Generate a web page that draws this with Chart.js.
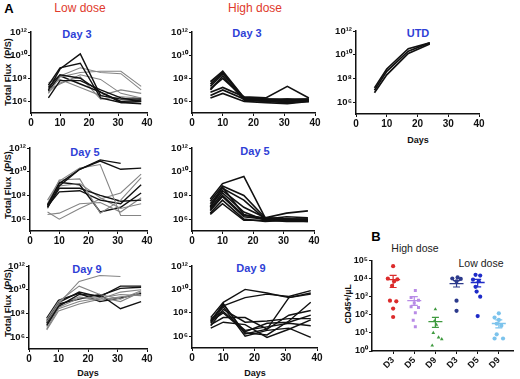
<!DOCTYPE html>
<html>
<head>
<meta charset="utf-8">
<script src="https://cdn.jsdelivr.net/npm/chart.js@4.4.1/dist/chart.umd.min.js"></script>
<style>
  html, body { margin:0; padding:0; background:#fff; overflow:hidden; }
  #wrap { position:relative; width:520px; height:379px; background:#fff; font-family: Arial, "Liberation Sans", sans-serif; }
  canvas { position:absolute; }
  .t { position:absolute; transform:translate(-50%,-50%); white-space:nowrap; line-height:1; }
  .r { position:absolute; transform:translate(-50%,-50%) rotate(-90deg); white-space:nowrap; line-height:1; font-weight:bold; font-size:9px; color:#111; }
  .blue { color:#2f3fd6; font-weight:bold; font-size:11px; }
  .red { color:#e03a2c; font-size:12px; }
  .days { font-weight:bold; font-size:9px; color:#111; }
</style>
</head>
<body>
<div id="wrap">
  <div class="t" style="left:9px;top:8px;font-weight:bold;font-size:13px;">A</div>
  <div class="t red" style="left:80px;top:8px;">Low dose</div>
  <div class="t red" style="left:255px;top:8px;">High dose</div>

  <div class="t blue" style="left:77px;top:34px;">Day 3</div>
  <div class="t blue" style="left:247px;top:33px;">Day 3</div>
  <div class="t blue" style="left:418px;top:33px;">UTD</div>
  <div class="t blue" style="left:85px;top:152px;">Day 5</div>
  <div class="t blue" style="left:255px;top:151px;">Day 5</div>
  <div class="t blue" style="left:87px;top:269px;">Day 9</div>
  <div class="t blue" style="left:251px;top:268px;">Day 9</div>

  <div class="r" style="left:8px;top:72px;">Total Flux&nbsp; (P/S)</div>
  <div class="r" style="left:8px;top:185px;">Total Flux&nbsp; (P/S)</div>
  <div class="r" style="left:8px;top:303px;">Total Flux&nbsp; (P/S)</div>

  <div class="t days" style="left:418px;top:140px;">Days</div>
  <div class="t days" style="left:88px;top:373px;">Days</div>
  <div class="t days" style="left:255px;top:373px;">Days</div>

  <div class="t" style="left:376px;top:236px;font-weight:bold;font-size:13px;">B</div>
  <div class="t" style="left:415px;top:248px;font-size:10.5px;color:#222;">High dose</div>
  <div class="t" style="left:481px;top:263px;font-size:10.5px;color:#222;">Low dose</div>
  <div class="r" style="left:348px;top:304px;font-size:8.5px;">CD45+/µL</div>

  <canvas id="c1"></canvas><canvas id="c2"></canvas><canvas id="c3"></canvas>
  <canvas id="c4"></canvas><canvas id="c5"></canvas>
  <canvas id="c6"></canvas><canvas id="c7"></canvas>
  <canvas id="c8"></canvas>
</div>
<script>
// ---------- DATA ----------
const days = [6, 10, 17, 24, 31, 38];
const utdDays = [6, 10, 17, 24];
const xTickVals = [0, 10, 20, 30, 40];
const yTickVals = [1e6, 1e8, 1e10, 1e12];
const yTickLabels = ['10\u2076', '10\u2078', '10\u00b9\u2070', '10\u00b9\u00b2'];

// Total flux (p/s), one row per mouse; shade: 'k' = black line, 'g' = grey line
const lowDay3 = [
  [1e7, 6.3e8, 1.3e10, 3.2e6, 1.6e6, 1.6e6],
  [2.5e7, 8e8, 2e9, 2e6, 8e5, 1e6],
  [1.6e7, 2e8, 1e8, 6.3e6, 1e6, 1.3e6],
  [5e6, 1.3e8, 3.2e8, 4e8, 4e8, 2e7],
  [4e7, 1.6e8, 8e8, 3.2e8, 2.5e8, 1e7],
  [2e6, 6.3e7, 6.3e7, 1e7, 2e6, 1e6],
  [1e7, 3.2e7, 2e8, 8e7, 5e6, 2e6],
  [8e6, 1.6e8, 3.2e7, 6.3e6, 8e5, 6.3e5],
  [2e7, 8e7, 1.6e7, 3.2e6, 1e7, 5e6],
  [6.3e6, 4e7, 1.3e8, 1.6e6, 2.5e6, 2e6]
];
const lowDay3Shade = ['k','k','k','g','g','k','g','k','g','g'];

const highDay3 = [
  [5e7, 4e8, 2e6, 1.6e6, 1.3e6, 1.6e6],
  [3.2e7, 3.2e8, 1.6e6, 1.3e6, 1e6, 1.3e6],
  [2e7, 2.5e8, 2e6, 1.6e6, 1.6e6, 1e6],
  [1e7, 1.6e8, 1.3e6, 1e6, 8e5, 1e6],
  [6.3e6, 1.6e7, 2.5e6, 2e6, 2e7, 2e6],
  [3.2e6, 1e7, 1.6e6, 1.3e6, 1e6, 1.3e6],
  [2e6, 5e6, 1e6, 8e5, 6.3e5, 1e6],
  [1.3e7, 1e8, 2e6, 1e6, 1.6e6, 1.6e6]
];

const utd = [
  [1.6e7, 6.3e8, 3.2e10, 1e11],
  [1e7, 4e8, 2e10, 1e11],
  [6.3e6, 2e8, 1.3e10, 8e10]
];

const lowDay5 = [
  [1e7, 6.3e8, 1.6e10, 1e11, 5e10, null],
  [1.6e7, 1e9, 1.6e10, 8e10, 1.6e10, 2e10],
  [4e7, 1.6e9, 2e10, 4e10, 2e6, 2e6],
  [2e7, 2e9, 2.5e9, 3.2e6, 4e7, 3.2e9],
  [1e7, 4e8, 4e8, 1e8, 3.2e7, 4e7],
  [1.3e7, 2e8, 2.5e8, 4e7, 2e7, 8e8],
  [4e6, 1e6, 8e6, 5e7, 1.6e8, 6.3e9],
  [2.5e6, 3.2e6, 2e7, 2.5e7, 4e6, 6.3e7],
  [8e6, 6.3e8, 1e9, 6.3e7, 8e6, 2e7],
  [1.6e7, 1.3e9, 8e8, 4e6, 1e7, 1.6e8]
];
const lowDay5Shade = ['k','k','g','g','k','k','g','g','g','k'];

const highDay5 = [
  [5e7, 1e9, 4e9, 1.3e6, 3.2e6, 5e6],
  [3.2e7, 6.3e8, 1e8, 1.3e6, 1e6, 1e6],
  [2e7, 4e8, 4e7, 1e6, 8e5, 8e5],
  [1.3e7, 2.5e8, 1e7, 1.3e6, 8e5, 8e5],
  [8e6, 1.6e8, 4e6, 8e5, 1e6, 8e5],
  [5e6, 8e7, 1.6e6, 1e6, 8e5, 6.3e5],
  [3.2e6, 4e7, 1e6, 6.3e5, 8e5, 8e5],
  [2.5e6, 2e7, 8e5, 8e5, 6.3e5, 6.3e5],
  [1e7, 5e8, 2.5e6, 1e6, 1.6e6, 1.3e6],
  [6.3e6, 1e8, 2e6, 1.3e6, 1e6, 1e6]
];

const lowDay9 = [
  [2e7, 6.3e8, 5e10, 1.6e11, 1.3e11, null],
  [3.2e7, 1e9, 2e10, 4e9, 1.6e9, 8e9],
  [1.6e7, 8e8, 6.3e9, 2.5e9, 2e10, 2e10],
  [1e7, 4e8, 4e9, 3.2e9, 1.3e10, 1.6e10],
  [8e6, 3.2e8, 2e9, 2.5e9, 1e9, 6.3e9],
  [2.5e7, 6.3e8, 1.6e9, 4e9, 2.5e8, 1e9],
  [1.3e7, 5e8, 2.5e9, 1.3e9, 2.5e9, 4e9],
  [5e6, 2.5e8, 1e9, 2e9, 4e9, 3.2e9],
  [4e7, 1.3e9, 5e9, 1e9, 2e9, 5e9],
  [4e6, 1.6e8, 6.3e8, 1.6e9, 6.3e9, 1e10]
];
const lowDay9Shade = ['g','g','k','k','g','k','g','g','k','g'];

const highDay9 = [
  [4e7, 8e8, 1e10, 5e9, 2e9, 5e9],
  [2.5e7, 4e8, 2e9, 4e9, 2.5e9, 8e9],
  [1.6e7, 6.3e8, 1.6e6, 4e6, 2e9, 4e9],
  [2e7, 5e8, 2e6, 1.3e6, 2e7, 8e8],
  [8e6, 2e8, 1.6e7, 2e7, 3.2e7, 3.2e7],
  [1e7, 4e7, 4e7, 4e6, 6.3e7, 1.6e8],
  [3.2e7, 1.3e8, 3.2e6, 6.3e6, 1.3e7, 8e6],
  [5e6, 1.6e7, 1e7, 8e5, 4e6, 2.5e7],
  [1.3e7, 3.2e8, 1e6, 3.2e6, 5e6, 8e5],
  [2e7, 1e8, 2.5e6, 1.3e7, 1.6e7, 6.3e7]
];

// Panel B: CD45+ cells per µL
const groupLabels = ['D3', 'D5', 'D9', 'D3', 'D5', 'D9'];
const groupColors = ['#dc2b2b', '#b88be6', '#3f9a3f', '#2c3a8c', '#1e2bc8', '#7cc3ec'];
const groupMarkers = ['circle', 'rect', 'triangle', 'circle', 'circle', 'circle'];
const cd45Values = [
  [4.8e4, 1.0e4, 9.0e3, 7.0e3, 4.0e3, 6.0e2, 5.5e2, 2.2e2, 7.5e1],
  [2.2e3, 9.0e2, 6.3e2, 4.5e2, 2.8e2, 2.5e2, 1.3e2, 5.0e1, 2.2e1],
  [2.0e2, 4.5e1, 2.8e1, 1.0e1, 5.6, 4.5, 2.0],
  [1.15e4, 1.0e4, 9.5e3, 7.0e3, 6.0e2, 1.65e2],
  [1.6e4, 1.45e4, 8.7e3, 7.1e3, 3.5e3, 1.9e3, 1.0e3, 8.5e1],
  [1.2e2, 7.0e1, 5.2e1, 3.2e1, 2.5e1, 8.3, 4.9, 4.9]
];
const cd45Jitter = [
  [0, -0.25, 0.2, 0.05, -0.05, -0.15, 0.15, 0, 0],
  [0.05, -0.15, 0.2, 0, -0.15, 0.2, 0.05, -0.05, 0.05],
  [0, -0.05, 0.05, -0.1, 0.15, 0.3, -0.15],
  [0.05, -0.2, 0.2, 0, 0, 0],
  [-0.1, 0.12, -0.22, 0.05, -0.1, -0.05, 0.12, 0],
  [0, -0.2, 0, -0.1, 0.12, -0.1, -0.2, 0.2]
];
const cd45Mean = [8.7e3, 6.0e2, 4.2e1, 5.2e3, 6.0e3, 3.3e1];
const cd45SemLo = [3.2e3, 3.3e2, 2.0e1, 3.4e3, 3.5e3, 1.9e1];
const cd45SemHi = [1.5e4, 1.0e3, 7.2e1, 7.6e3, 8.9e3, 5.2e1];
const bTickVals = [1, 10, 100, 1e3, 1e4, 1e5];
const bTickLabels = ['10\u2070', '10\u00b9', '10\u00b2', '10\u00b3', '10\u2074', '10\u2075'];

// ---------- DRAWING ----------
Chart.defaults.font.family = 'Arial, "Liberation Sans", sans-serif';
Chart.defaults.color = '#111';

const SHADE = { k: '#111111', g: '#858585' };

function place(id, box, yw, pt, pr, xh) {
  const c = document.getElementById(id);
  const w = (box.r - box.l) + yw + pr;
  const h = (box.b - box.t) + pt + xh;
  c.width = w; c.height = h;
  c.style.left = (box.l - yw) + 'px';
  c.style.top = (box.t - pt) + 'px';
  c.style.width = w + 'px'; c.style.height = h + 'px';
  return c;
}

function axisCommon() {
  return {
    grid: { display: true, drawOnChartArea: false, drawTicks: true, tickLength: 3, color: '#111', lineWidth: 1 },
    border: { display: true, color: '#111', width: 1.5 }
  };
}

function linePanel(id, box, series, xs, shades, width) {
  const YW = 30, PT = 8, PR = 8, XH = 18;
  const c = place(id, box, YW, PT, PR, XH);
  const datasets = series.map((s, i) => ({
    data: xs.map((d, j) => ({ x: d, y: s[j] })).filter(p => p.y !== null && p.y !== undefined),
    borderColor: SHADE[shades ? shades[i] : 'k'],
    borderWidth: shades && shades[i] === 'g' ? 1.1 : width,
    pointRadius: 0, fill: false, tension: 0
  }));
  return new Chart(c, {
    type: 'line',
    data: { datasets },
    options: {
      responsive: false, animation: false, devicePixelRatio: 1,
      layout: { padding: { top: PT, right: PR, left: 0, bottom: 0 } },
      plugins: { legend: { display: false }, tooltip: { enabled: false } },
      scales: {
        x: Object.assign(axisCommon(), {
          type: 'linear', min: 0, max: 40,
          afterBuildTicks: s => { s.ticks = xTickVals.map(v => ({ value: v })); },
          afterFit: s => { s.height = XH; },
          ticks: { color: '#111', font: { size: 10, weight: 'bold' }, padding: 1, maxRotation: 0, autoSkip: false }
        }),
        y: Object.assign(axisCommon(), {
          type: 'logarithmic', min: 1e5, max: 1e12,
          afterBuildTicks: s => { s.ticks = yTickVals.map(v => ({ value: v })); },
          afterFit: s => { s.width = YW; },
          ticks: { color: '#111', font: { size: 9.5, weight: 'bold' }, padding: 1, autoSkip: false,
                   callback: (v, i) => yTickLabels[i] }
        })
      }
    }
  });
}

linePanel('c1', { l: 31, t: 32, r: 147, b: 113 }, lowDay3, days, lowDay3Shade, 1.4);
linePanel('c2', { l: 192, t: 32, r: 315, b: 113 }, highDay3, days, null, 1.7);
linePanel('c3', { l: 356, t: 31, r: 479, b: 114 }, utd, utdDays, null, 1.7);
linePanel('c4', { l: 30, t: 148, r: 147, b: 231 }, lowDay5, days, lowDay5Shade, 1.4);
linePanel('c5', { l: 192, t: 148, r: 314, b: 231 }, highDay5, days, null, 1.6);
linePanel('c6', { l: 29, t: 266, r: 147, b: 349 }, lowDay9, days, lowDay9Shade, 1.4);
linePanel('c7', { l: 192, t: 266, r: 317, b: 348 }, highDay9, days, null, 1.4);

// Panel B
(function () {
  const YW = 24, PT = 6, PR = 4, XH = 28;
  const c = place('c8', { l: 372, t: 258, r: 518, b: 351 }, YW, PT, PR, XH);
  const datasets = [];
  groupLabels.forEach((lab, g) => {
    const pos = g + 1;
    datasets.push({
      type: 'scatter',
      data: cd45Values[g].map((v, k) => ({ x: pos + cd45Jitter[g][k], y: v })),
      pointStyle: groupMarkers[g], pointRadius: 2.1, pointBorderWidth: 0,
      backgroundColor: groupColors[g], borderColor: groupColors[g], showLine: false
    });
    datasets.push({
      type: 'line',
      data: [{ x: pos, y: cd45SemLo[g] }, { x: pos, y: cd45SemHi[g] }],
      borderColor: groupColors[g], borderWidth: 1.2,
      pointStyle: 'line', pointRadius: 3.5, pointBorderWidth: 1.2, pointBorderColor: groupColors[g]
    });
    datasets.push({
      type: 'scatter',
      data: [{ x: pos, y: cd45Mean[g] }],
      pointStyle: 'line', pointRadius: 7, pointBorderWidth: 1.4,
      borderColor: groupColors[g], backgroundColor: groupColors[g], showLine: false
    });
  });
  new Chart(c, {
    type: 'scatter',
    data: { datasets },
    options: {
      responsive: false, animation: false, devicePixelRatio: 1,
      layout: { padding: { top: PT, right: PR, left: 0, bottom: 0 } },
      plugins: { legend: { display: false }, tooltip: { enabled: false } },
      scales: {
        x: Object.assign(axisCommon(), {
          type: 'linear', min: 0, max: 6.7,
          afterBuildTicks: s => { s.ticks = groupLabels.map((_, i) => ({ value: i + 1 })); },
          afterFit: s => { s.height = XH; },
          ticks: { color: '#111', font: { size: 9, weight: 'bold' }, padding: 1, minRotation: 45, maxRotation: 45,
                   autoSkip: false, callback: (v, i) => groupLabels[i] }
        }),
        y: Object.assign(axisCommon(), {
          type: 'logarithmic', min: 1, max: 1e5,
          afterBuildTicks: s => { s.ticks = bTickVals.map(v => ({ value: v })); },
          afterFit: s => { s.width = YW; },
          ticks: { color: '#111', font: { size: 9, weight: 'bold' }, padding: 1, autoSkip: false,
                   callback: (v, i) => bTickLabels[i] }
        })
      }
    }
  });
})();
</script>
</body>
</html>
